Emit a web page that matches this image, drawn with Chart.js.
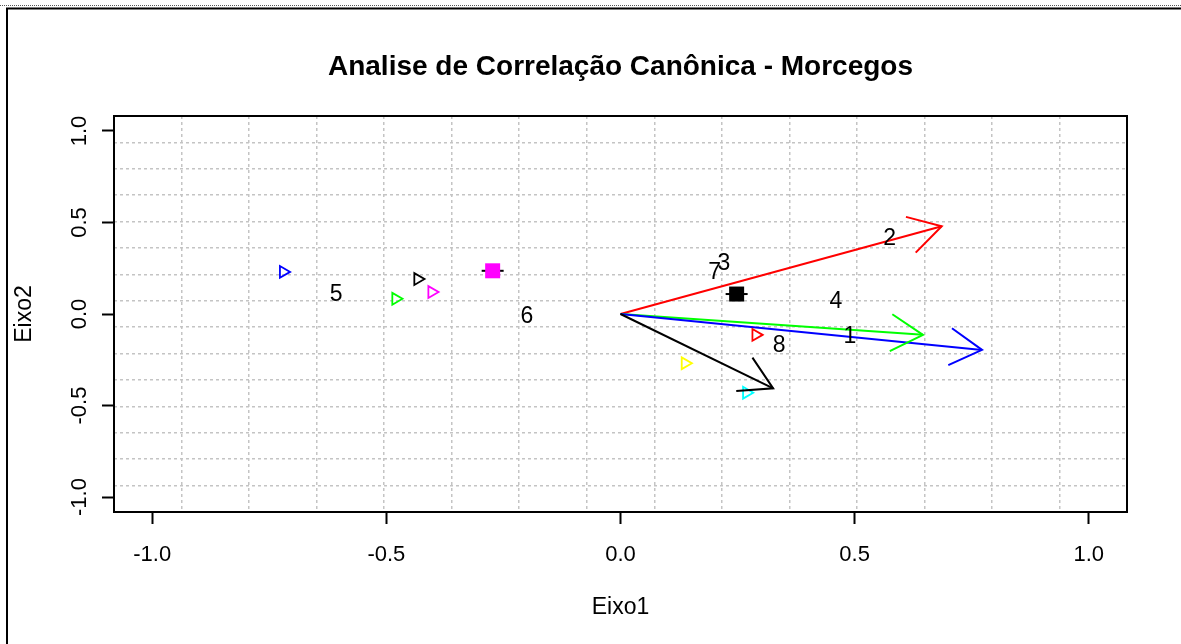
<!DOCTYPE html>
<html>
<head>
<meta charset="utf-8">
<script src="https://cdn.jsdelivr.net/npm/chart.js@4.4.1/dist/chart.umd.min.js"></script>
<style>
  body { margin: 0; background: #fff; }
  canvas { display: block; }
</style>
</head>
<body>
<canvas id="cca" width="1181" height="644"></canvas>
<script>
// Eixos
const tickValues = [-1.0, -0.5, 0.0, 0.5, 1.0];
const axisMin = -1.0816;
const axisMax = 1.0816;
const gridCells = 15;

// Setas (variaveis)
const arrowColors = ['#ff0000', '#00ff00', '#0000ff', '#000000'];
const arrowX = [0.686, 0.646, 0.772, 0.326];
const arrowY = [0.479, -0.114, -0.196, -0.406];

// Rotulos numericos
const varLabels = ['1', '2', '3', '4', '5', '6', '7', '8'];
const varX = [0.49, 0.575, 0.221, 0.46, -0.607, -0.2, 0.201, 0.339];
const varY = [-0.123, 0.41, 0.275, 0.068, 0.105, -0.017, 0.224, -0.172];

// Triangulos
const triColors = ['#0000ff', '#000000', '#00ff00', '#ff00ff', '#ff0000', '#ffff00', '#00ffff'];
const triX = [-0.72, -0.433, -0.48, -0.403, 0.289, 0.138, 0.269];
const triY = [0.23, 0.191, 0.083, 0.12, -0.114, -0.269, -0.43];

// Quadrados (centroides)
const sqColors = ['#ff00ff', '#000000'];
const sqX = [-0.273, 0.248];
const sqY = [0.236, 0.109];

const fam = "'Liberation Sans', Arial, sans-serif";

// setas: linha da origem ate a ponta
const arrowSets = arrowX.map((x, i) => ({
    data: [{ x: 0, y: 0 }, { x: x, y: arrowY[i] }],
    showLine: true,
    borderColor: arrowColors[i],
    borderWidth: 2,
    pointRadius: 0
}));

const triSet = {
    data: triX.map((x, i) => ({ x: x, y: triY[i] })),
    pointStyle: 'triangle',
    rotation: 90,
    pointRadius: 6.8,
    pointBorderWidth: 1.8,
    pointBorderColor: triColors,
    pointBackgroundColor: 'rgba(0,0,0,0)'
};

const dashSet = {
    data: sqX.map((x, i) => ({ x: x, y: sqY[i] })),
    pointStyle: 'line',
    pointRadius: 11,
    pointBorderWidth: 2,
    pointBorderColor: '#000000'
};

const sqSet = {
    data: sqX.map((x, i) => ({ x: x, y: sqY[i] })),
    pointStyle: 'rect',
    pointRadius: 10.6,
    pointBorderWidth: 0,
    pointBackgroundColor: sqColors,
    pointBorderColor: sqColors
};

// grade pontilhada dividindo a area em partes iguais
function gridTicks(scale) {
    const step = (scale.max - scale.min) / gridCells;
    const t = [];
    for (let k = 1; k < gridCells; k++) t.push({ value: scale.min + k * step });
    scale.ticks = t;
}

const extras = {
    id: 'extras',
    beforeDraw(chart) {
        const ctx = chart.ctx;
        ctx.save();
        ctx.fillStyle = '#ffffff';
        ctx.fillRect(0, 0, chart.width, chart.height);
        ctx.restore();
    },
    afterDatasetsDraw(chart) {
        const { ctx, chartArea: a, scales: { x, y } } = chart;
        ctx.save();
        // pontas das setas
        arrowX.forEach((vx, i) => {
            const x0 = x.getPixelForValue(0), y0 = y.getPixelForValue(0);
            const x1 = x.getPixelForValue(vx), y1 = y.getPixelForValue(arrowY[i]);
            const ang = Math.atan2(y1 - y0, x1 - x0);
            const L = 37;
            ctx.strokeStyle = arrowColors[i];
            ctx.lineWidth = 2;
            ctx.beginPath();
            ctx.moveTo(x1 - L * Math.cos(ang - Math.PI / 6), y1 - L * Math.sin(ang - Math.PI / 6));
            ctx.lineTo(x1, y1);
            ctx.lineTo(x1 - L * Math.cos(ang + Math.PI / 6), y1 - L * Math.sin(ang + Math.PI / 6));
            ctx.stroke();
        });
        // rotulos
        ctx.fillStyle = '#000';
        ctx.font = '23px ' + fam;
        ctx.textAlign = 'center';
        ctx.textBaseline = 'middle';
        varLabels.forEach((lab, i) => {
            ctx.fillText(lab, x.getPixelForValue(varX[i]), y.getPixelForValue(varY[i]));
        });
        // caixa do grafico
        ctx.strokeStyle = '#000';
        ctx.lineWidth = 2;
        ctx.strokeRect(a.left, a.top, a.right - a.left, a.bottom - a.top);
        ctx.restore();
    },
    afterDraw(chart) {
        const { ctx, chartArea: a } = chart;
        ctx.save();
        // titulo
        ctx.fillStyle = '#000';
        ctx.font = 'bold 28px ' + fam;
        ctx.textAlign = 'center';
        ctx.textBaseline = 'middle';
        ctx.fillText('Analise de Correlação Canônica - Morcegos', (a.left + a.right) / 2, 67);
        // moldura da pagina
        ctx.strokeStyle = '#555';
        ctx.lineWidth = 1;
        ctx.setLineDash([1, 1]);
        ctx.beginPath();
        ctx.moveTo(0, 5.5);
        ctx.lineTo(chart.width, 5.5);
        ctx.stroke();
        ctx.setLineDash([]);
        ctx.strokeStyle = '#000';
        ctx.lineWidth = 2;
        ctx.beginPath();
        ctx.moveTo(chart.width, 8.5);
        ctx.lineTo(7, 8.5);
        ctx.lineTo(7, chart.height);
        ctx.stroke();
        ctx.restore();
    }
};

new Chart(document.getElementById('cca'), {
    type: 'scatter',
    data: { datasets: [sqSet, dashSet, triSet, ...arrowSets.reverse()] },
    plugins: [extras],
    options: {
        responsive: false,
        animation: false,
        events: [],
        layout: { padding: { top: 116, right: 54, left: 0, bottom: 0 } },
        plugins: {
            legend: { display: false },
            tooltip: { enabled: false },
            title: { display: false }
        },
        scales: {
            x: {
                type: 'linear', position: 'bottom', min: axisMin, max: axisMax,
                afterBuildTicks: s => { s.ticks = tickValues.map(v => ({ value: v })); },
                afterFit: s => { s.height = 132; },
                grid: { drawOnChartArea: false, drawTicks: true, tickLength: 12, tickColor: '#000', tickWidth: 2 },
                border: { display: false },
                ticks: { color: '#000', font: { family: fam, size: 22 }, padding: 18, autoSkip: false, maxRotation: 0,
                    callback: v => v.toFixed(1) },
                title: { display: true, text: 'Eixo1', color: '#000', font: { family: fam, size: 23 }, padding: { top: 0, bottom: 23 } }
            },
            y: {
                type: 'linear', position: 'left', min: axisMin, max: axisMax,
                afterBuildTicks: s => { s.ticks = tickValues.map(v => ({ value: v })); },
                afterFit: s => { s.width = 114; },
                grid: { drawOnChartArea: false, drawTicks: true, tickLength: 12, tickColor: '#000', tickWidth: 2 },
                border: { display: false },
                ticks: { color: '#000', font: { family: fam, size: 22 }, padding: 3, autoSkip: false,
                    minRotation: 90, maxRotation: 90, crossAlign: 'center',
                    callback: v => v.toFixed(1) },
                title: { display: true, text: 'Eixo2', color: '#000', font: { family: fam, size: 23 }, padding: { top: 11, bottom: 0 } }
            },
            gx: {
                type: 'linear', position: 'top', min: axisMin, max: axisMax,
                afterBuildTicks: gridTicks,
                afterFit: s => { s.height = 0; },
                ticks: { display: false, autoSkip: false },
                grid: { color: '#c4c4c4', lineWidth: 1.5, drawTicks: false },
                border: { display: false, dash: [3, 3] }
            },
            gy: {
                type: 'linear', position: 'right', min: axisMin, max: axisMax,
                afterBuildTicks: gridTicks,
                afterFit: s => { s.width = 0; },
                ticks: { display: false, autoSkip: false },
                grid: { color: '#c4c4c4', lineWidth: 1.5, drawTicks: false },
                border: { display: false, dash: [3, 3] }
            }
        }
    }
});
</script>
</body>
</html>
